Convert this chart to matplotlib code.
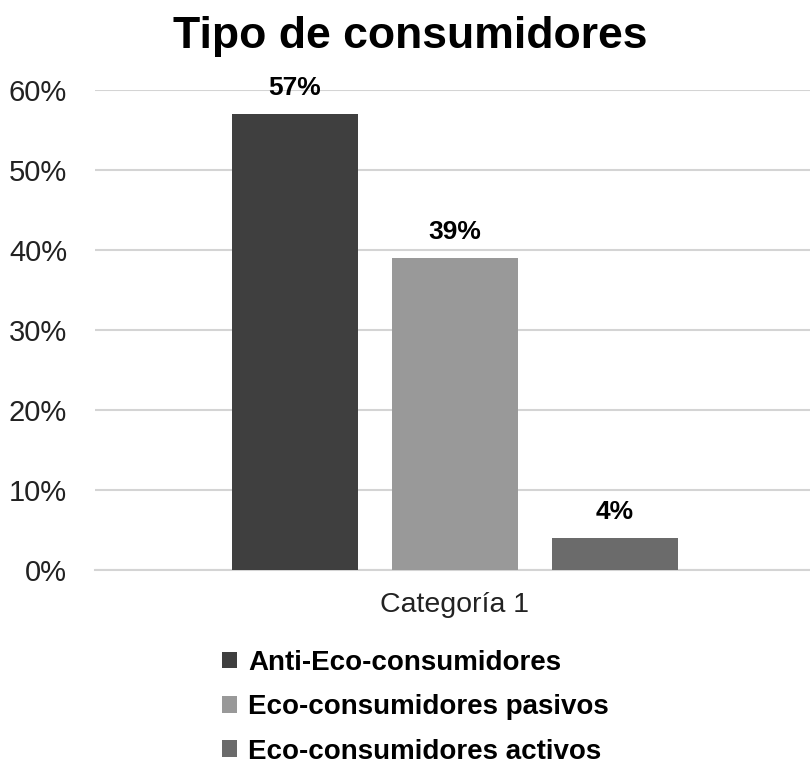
import matplotlib.pyplot as plt
from matplotlib.ticker import PercentFormatter

plt.rcParams['font.family'] = ['Liberation Sans', 'DejaVu Sans']

# data
series = ["Anti-Eco-consumidores", "Eco-consumidores pasivos", "Eco-consumidores activos"]
values = [0.57, 0.39, 0.04]
labels = ["57%", "39%", "4%"]
colors = ["#3f3f3f", "#999999", "#6b6b6b"]
category = "Categoría 1"

fig = plt.figure(figsize=(8.1, 7.65), dpi=100)
ax = fig.add_axes([95 / 810, 1 - 570 / 765, 1 - 95 / 810, 480 / 765])

offsets = [-1, 0, 1]
width = 0.79
for off, name, v, lab, c in zip(offsets, series, values, labels, colors):
    ax.bar(off, v, width=width, color=c, label=name, zorder=3)
    ax.annotate(lab, (off, v), xytext=(0, 10), textcoords="offset points",
                ha="center", va="bottom", fontsize=19, fontweight="bold")

ax.set_xlim(-2.25, 2.22)
ax.set_ylim(0, 0.6)
ax.set_yticks([0, 0.1, 0.2, 0.3, 0.4, 0.5, 0.6])
ax.yaxis.set_major_formatter(PercentFormatter(1.0, decimals=0))
ax.set_xticks([0])
ax.set_xticklabels([category])
ax.tick_params(axis="y", length=0, labelsize=21, colors="#222222", pad=20)
ax.tick_params(axis="x", length=0, labelsize=20.5, colors="#222222", pad=16)
ax.grid(axis="y", color="#d4d4d4", linewidth=1.5, zorder=0)
for s in ["top", "right", "left"]:
    ax.spines[s].set_visible(False)
ax.spines["bottom"].set_color("#d4d4d4")
ax.spines["bottom"].set_linewidth(1.5)

fig.suptitle("Tipo de consumidores", x=410 / 810, y=1 - 16 / 765, va="top",
             fontsize=32, fontweight="bold")

fig.legend(loc="upper left", bbox_to_anchor=(208 / 810, 1 - 636 / 765), frameon=False,
           prop={"size": 20, "weight": "bold"}, handlelength=0.55, handleheight=0.55,
           handletextpad=0.4, labelspacing=0.66, borderpad=0)

fig.savefig("out.png", dpi=100)
